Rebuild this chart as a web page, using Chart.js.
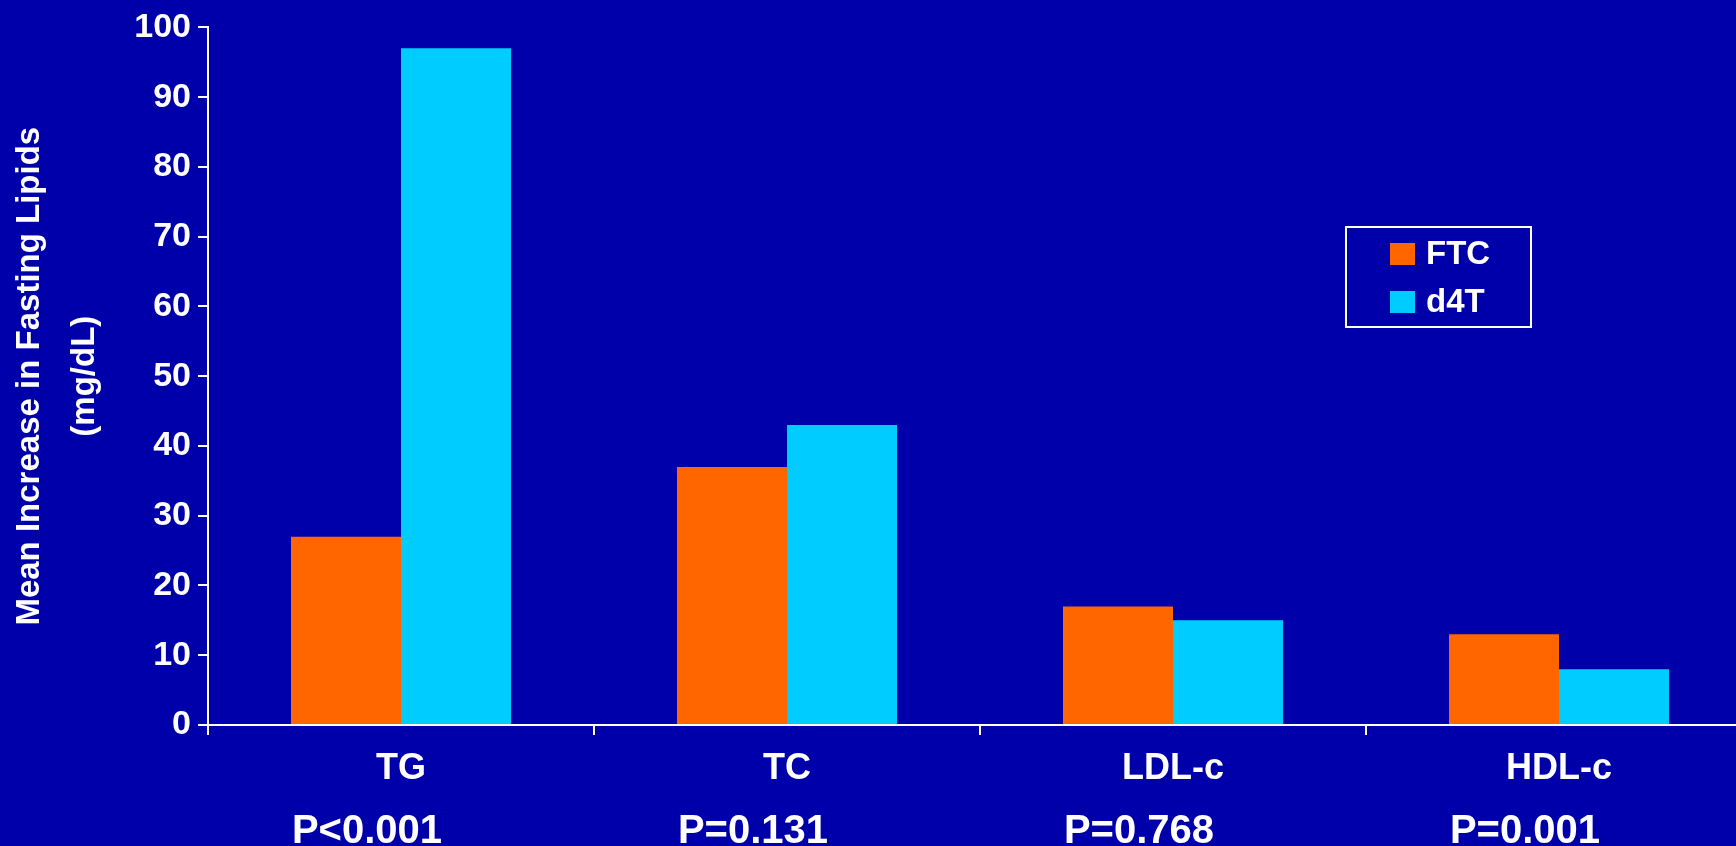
<!DOCTYPE html>
<html>
<head>
<meta charset="utf-8">
<title>Mean Increase in Fasting Lipids</title>
<script src="https://cdn.jsdelivr.net/npm/chart.js@4/dist/chart.umd.min.js"></script>
<style>
  html, body { margin: 0; padding: 0; background: #0000AA; overflow: hidden; }
  #wrap { width: 1736px; height: 846px; overflow: hidden; }
  canvas { display: block; }
</style>
</head>
<body>
<div id="wrap"><canvas id="chart" width="1752" height="846"></canvas></div>
<script>
// Lipid categories and mean increases (mg/dL) for each treatment arm
const categories = ['TG', 'TC', 'LDL-c', 'HDL-c'];
const ftcValues = [27, 37, 17, 13];
const d4tValues = [97, 43, 15, 8];
const pValues = ['P<0.001', 'P=0.131', 'P=0.768', 'P=0.001'];
const seriesNames = ['FTC', 'd4T'];
const yMin = 0;
const yMax = 100;
const yStep = 10;

const FONT = '"Liberation Sans", Arial, Helvetica, sans-serif';
const WHITE = '#FFFFFF';
const COLORS = ['#FF6600', '#00CCFF'];

// P-value captions under each category
const pValuePlugin = {
  id: 'pValues',
  afterDraw(chart) {
    const ctx = chart.ctx;
    const x = chart.scales.x;
    ctx.save();
    ctx.fillStyle = WHITE;
    ctx.font = 'bold 40px ' + FONT;
    ctx.textAlign = 'center';
    ctx.textBaseline = 'alphabetic';
    pValues.forEach((p, i) => {
      ctx.fillText(p, x.getPixelForValue(i) - 34, 843);
    });
    ctx.restore();
  }
};

// Boxed legend inside the plot area
const boxLegendPlugin = {
  id: 'boxLegend',
  afterDraw(chart) {
    const ctx = chart.ctx;
    const bx = 1346, by = 227, bw = 185, bh = 100;
    ctx.save();
    ctx.strokeStyle = WHITE;
    ctx.lineWidth = 2;
    ctx.strokeRect(bx, by, bw, bh);
    ctx.font = 'bold 33px ' + FONT;
    ctx.textAlign = 'left';
    ctx.textBaseline = 'middle';
    chart.data.datasets.forEach((ds, i) => {
      const cy = by + 27 + i * 48;
      ctx.fillStyle = ds.backgroundColor;
      ctx.fillRect(bx + 44, cy - 11, 25, 22);
      ctx.fillStyle = WHITE;
      ctx.fillText(ds.label, bx + 80, cy + 1);
    });
    ctx.restore();
  }
};

new Chart(document.getElementById('chart'), {
  type: 'bar',
  data: {
    labels: categories,
    datasets: [
      { label: seriesNames[0], data: ftcValues, backgroundColor: COLORS[0], borderWidth: 0 },
      { label: seriesNames[1], data: d4tValues, backgroundColor: COLORS[1], borderWidth: 0 }
    ]
  },
  options: {
    responsive: false,
    animation: false,
    devicePixelRatio: 1,
    layout: { padding: { top: 25, right: 0, bottom: 0, left: 0 } },
    datasets: {
      bar: { categoryPercentage: 0.57, barPercentage: 1.0 }
    },
    plugins: {
      legend: { display: false },
      tooltip: { enabled: false }
    },
    scales: {
      x: {
        offset: true,
        afterFit(scale) { scale.height = 121; },
        grid: {
          offset: true,
          display: true,
          drawOnChartArea: false,
          drawTicks: true,
          tickLength: 10,
          color: WHITE,
          lineWidth: 2
        },
        border: { display: true, color: WHITE, width: 2 },
        ticks: {
          color: WHITE,
          padding: 12,
          maxRotation: 0,
          font: { family: FONT, size: 36, weight: 'bold' }
        }
      },
      y: {
        min: yMin,
        max: yMax,
        afterFit(scale) { scale.width = 208; },
        grid: {
          display: true,
          drawOnChartArea: false,
          drawTicks: true,
          tickLength: 10,
          color: WHITE,
          lineWidth: 2
        },
        border: { display: true, color: WHITE, width: 2 },
        ticks: {
          stepSize: yStep,
          color: WHITE,
          padding: 7,
          font: { family: FONT, size: 34, weight: 'bold' }
        },
        title: {
          display: true,
          text: ['Mean Increase in Fasting Lipids', '(mg/dL)'],
          color: WHITE,
          padding: { top: 2, bottom: 0 },
          font: { family: FONT, size: 33, weight: 'bold', lineHeight: 1.68 }
        }
      }
    }
  },
  plugins: [pValuePlugin, boxLegendPlugin]
});
</script>
</body>
</html>
